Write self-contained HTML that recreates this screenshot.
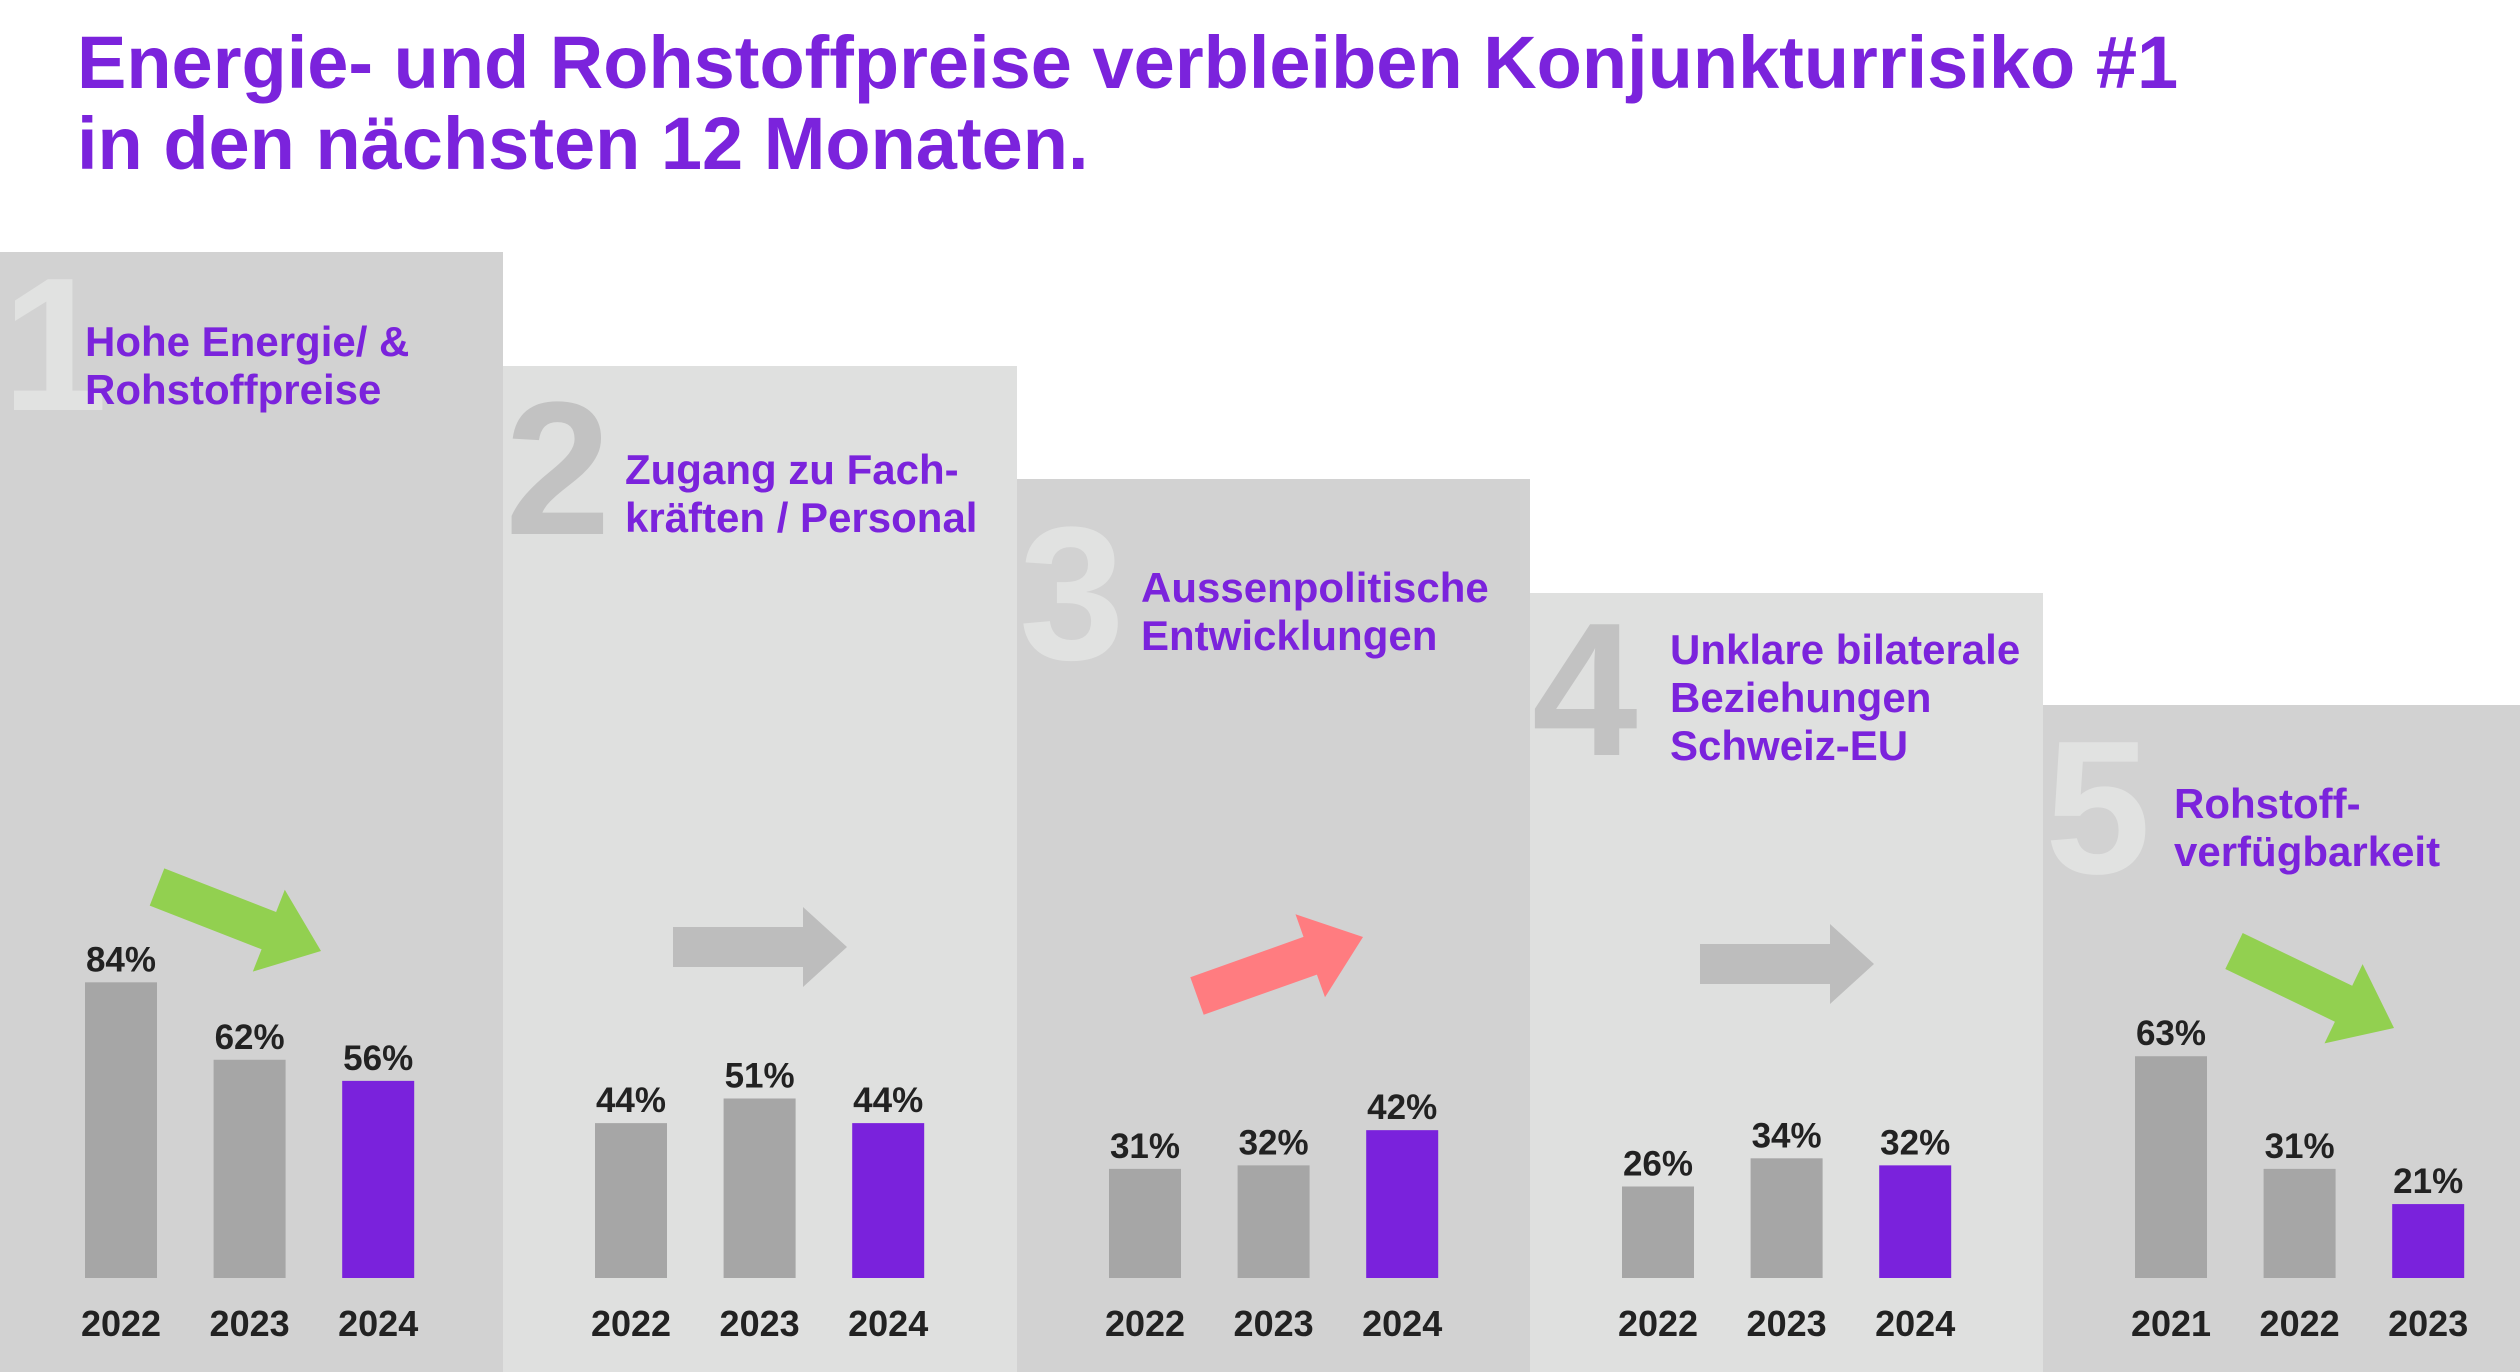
<!DOCTYPE html>
<html><head><meta charset="utf-8"><style>
html,body{margin:0;padding:0;background:#fff;}
svg{display:block;font-family:"Liberation Sans",Arial,sans-serif;}
</style></head><body>
<svg id="chart" width="2520" height="1372" viewBox="0 0 2520 1372" xmlns="http://www.w3.org/2000/svg">
<rect width="2520" height="1372" fill="#ffffff"/>
<text x="77" y="88" font-size="74" font-weight="bold" fill="#7b23dc">Energie- und Rohstoffpreise verbleiben Konjunkturrisiko #1</text>
<text x="77" y="169" font-size="74" font-weight="bold" fill="#7b23dc">in den nächsten 12 Monaten.</text>
<g id="panels"></g>
</svg>
<script>
const categories = [["Hohe Energie/ &","Rohstoffpreise"],["Zugang zu Fach-","kräften / Personal"],["Aussenpolitische","Entwicklungen"],["Unklare bilaterale","Beziehungen","Schweiz-EU"],["Rohstoff-","verfügbarkeit"]];
const ranks = ["1","2","3","4","5"];
const years = [["2022","2023","2024"],["2022","2023","2024"],["2022","2023","2024"],["2022","2023","2024"],["2021","2022","2023"]];
const values = [[84,62,56],[44,51,44],[31,32,42],[26,34,32],[63,31,21]];
const trends = ["down","flat","up","flat","down"];

const NS="http://www.w3.org/2000/svg";
const g=document.getElementById('panels');
const panelLeft=[0,503,1017,1530,2043];
const panelRight=[503,1017,1530,2043,2520];
const panelTop=[252,366,479,593,705];
const baseY=1278, pxPer=3.52;
function yScale(v){return baseY - v*pxPer;}
function mk(tag,attrs,parent){const e=document.createElementNS(NS,tag);for(const k in attrs)e.setAttribute(k,attrs[k]);(parent||g).appendChild(e);return e;}
function arrowPts(x1,y1,x2,y2,sw,hw,hl){
  const dx=x2-x1,dy=y2-y1,L=Math.hypot(dx,dy),ux=dx/L,uy=dy/L,nx=-uy,ny=ux;
  const bx=x2-ux*hl,by=y2-uy*hl;
  const p=[[x1+nx*sw/2,y1+ny*sw/2],[bx+nx*sw/2,by+ny*sw/2],[bx+nx*hw/2,by+ny*hw/2],[x2,y2],[bx-nx*hw/2,by-ny*hw/2],[bx-nx*sw/2,by-ny*sw/2],[x1-nx*sw/2,y1-ny*sw/2]];
  return p.map(q=>q[0].toFixed(1)+","+q[1].toFixed(1)).join(" ");
}
const trendColor={down:"#92d050",up:"#ff7c80",flat:"#bdbdbd"};
const bgCol=["#d2d2d2","#dfe0df","#d2d2d2","#dfe0df","#d2d2d2"];
const digitCol=["#e1e2e1","#c2c2c2","#e1e2e1","#c2c2c2","#e1e2e1"];
const headBase=[356,484,602,664,818];
const headX=[85,625,1141,1670,2174];
const digitBase=[410,534,659,755,873];
// arrow geometry relative to panel left (layout, not data)
const arrowGeom=[[157,887,321,951],[170,947,344,947],[180,996,346,937],[170,964,344,964],[191,951,351,1028]];

categories.forEach((cat,i)=>{
  const L=panelLeft[i];
  const grp=mk('g',{});
  
  
  const r=mk('rect',{x:L,y:panelTop[i],width:panelRight[i]-L,height:1372-panelTop[i],fill:bgCol[i]},grp);
  
  
  const d=mk('text',{x:L+2,y:digitBase[i],'font-size':190,'font-weight':'bold',fill:digitCol[i]},grp);
  d.textContent=ranks[i];
  
  
  cat.forEach((line,j)=>{
    const t=mk('text',{x:headX[i],y:headBase[i]+j*48,'font-size':42,'font-weight':'bold',fill:'#7b23dc'},grp);
    t.textContent=line;
    
    
  });
  const off=(i===0?85:92);
  values[i].forEach((v,k)=>{
    const x=L+off+k*128.6;
    const b=mk('rect',{x:x,y:yScale(v),width:72,height:v*pxPer,fill:k===2?'#7a22dc':'#a6a6a6'},grp);
    
    
    const vl=mk('text',{x:x+36,y:yScale(v)-11,'font-size':35,'font-weight':'bold',fill:'#222','text-anchor':'middle'},grp);
    vl.textContent=v+'%';
    
    
    const yl=mk('text',{x:x+36,y:1336,'font-size':36,'font-weight':'bold',fill:'#222','text-anchor':'middle'},grp);
    yl.textContent=years[i][k];
    
    
  });
  const ag=arrowGeom[i];
  const flat=trends[i]==='flat';
  const pts=arrowPts(L+ag[0],ag[1],L+ag[2],ag[3],40,flat?80:88,flat?44:56);
  const a=mk('polygon',{points:pts,fill:trendColor[trends[i]]},grp);
  
  
});
</script>
</body></html>
